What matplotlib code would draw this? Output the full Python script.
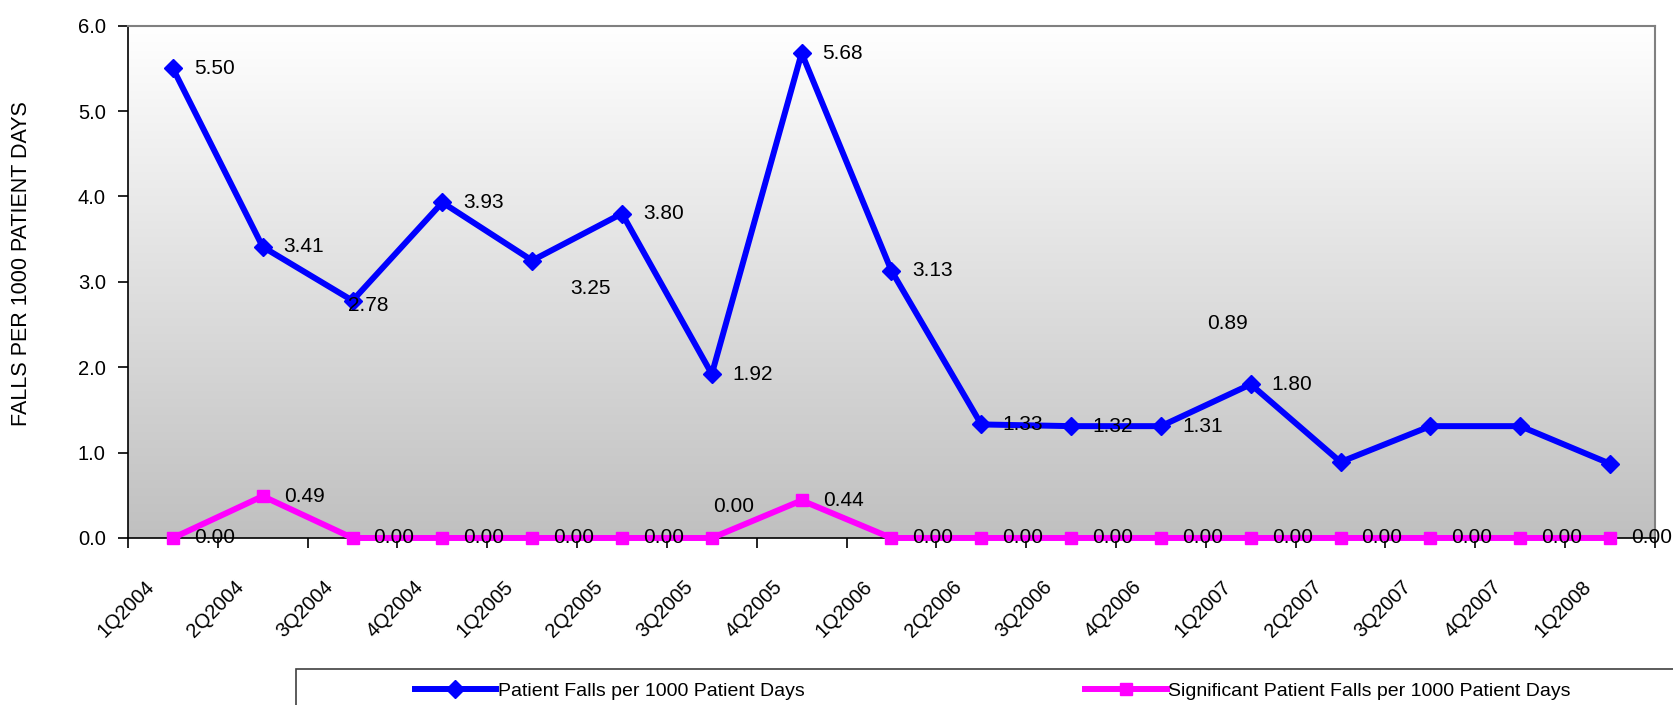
import matplotlib
matplotlib.use('Agg')
import matplotlib.pyplot as plt
import matplotlib.transforms as mtransforms
from matplotlib.colors import LinearSegmentedColormap
from matplotlib.patches import Rectangle
import numpy as np

quarters = ['1Q2004', '2Q2004', '3Q2004', '4Q2004', '1Q2005', '2Q2005', '3Q2005',
            '4Q2005', '1Q2006', '2Q2006', '3Q2006', '4Q2006', '1Q2007', '2Q2007',
            '3Q2007', '4Q2007', '1Q2008']
falls = [5.50, 3.41, 2.78, 3.93, 3.25, 3.80, 1.92, 5.68, 3.13, 1.33, 1.31, 1.31,
         1.80, 0.89, 1.31, 1.31, 0.87]
falls_labels = ['5.50', '3.41', '2.78', '3.93', '3.25', '3.80', '1.92', '5.68', '3.13',
                '1.33', '1.32', '1.31', '1.80', '0.89', '', '', '']
sig_falls = [0.00, 0.49, 0.00, 0.00, 0.00, 0.00, 0.00, 0.44, 0.00, 0.00, 0.00, 0.00,
             0.00, 0.00, 0.00, 0.00, 0.00]

plt.rcParams['font.family'] = ['Liberation Sans', 'DejaVu Sans']

fig = plt.figure(figsize=(16.73, 7.05), dpi=100)
ax = fig.add_axes([0.0765, 0.2369, 0.9892 - 0.0765, 0.9635 - 0.2369])

x = np.arange(len(quarters))

# gradient background
cmap = LinearSegmentedColormap.from_list('bg', ['#C0C0C0', '#FFFFFF'])
grad = np.linspace(0, 1, 256).reshape(-1, 1)
ax.imshow(grad, cmap=cmap, extent=[-0.5, 16.5, 0, 6], aspect='auto',
          origin='lower', zorder=0)

ax.plot(x, falls, color='#0000FF', lw=4.3, marker='D', ms=9, mew=1,
        label='Patient Falls per 1000 Patient Days', zorder=3)
ax.plot(x, sig_falls, color='#FF00FF', lw=4.3, marker='s', ms=8.5, mew=1,
        label='Significant Patient Falls per 1000 Patient Days', zorder=3, clip_on=False)

ax.set_xlim(-0.5, 16.5)
ax.set_ylim(0, 6)

# data labels (offsets in px: left edge / vertical center)
px = 1 / 1.389
blue_off = {2: (-5, -5), 4: (38, -28), 13: (-133, 139)}
for i, (v, t) in enumerate(zip(falls, falls_labels)):
    if not t:
        continue
    dx, dy = blue_off.get(i, (21, 0))
    ax.annotate(t, (i, v), xytext=(dx * px, dy * px), textcoords='offset points',
                ha='left', va='center', fontsize=15, zorder=5, annotation_clip=False)

pink_off = {6: (1, 31)}
for i, v in enumerate(sig_falls):
    dx, dy = pink_off.get(i, (21, 0))
    ax.annotate('%.2f' % v, (i, v), xytext=(dx * px, dy * px), textcoords='offset points',
                ha='left', va='center', fontsize=15, zorder=5, annotation_clip=False)

# axes styling
for s in ['top', 'right']:
    ax.spines[s].set_color('#808080')
    ax.spines[s].set_linewidth(1.5)
for s in ['left', 'bottom']:
    ax.spines[s].set_color('black')
    ax.spines[s].set_linewidth(1.2)

ax.set_yticks(np.arange(0, 7, 1))
ax.set_yticklabels(['%.1f' % v for v in np.arange(0, 7, 1)], fontsize=14.5)
ax.tick_params(axis='y', length=7, width=1.2, pad=9)

ax.set_xticks(x)
ax.set_xticks(np.arange(-0.5, 17, 1), minor=True)
ax.tick_params(axis='x', which='major', length=0, pad=33)
ax.tick_params(axis='x', which='minor', length=7, width=1.2)
ax.set_xticklabels(quarters, rotation=45, ha='right', va='center',
                   rotation_mode='anchor', fontsize=14.5)
shift = mtransforms.ScaledTranslation(-22 / 100, 0, fig.dpi_scale_trans)
for lbl in ax.get_xticklabels():
    lbl.set_transform(lbl.get_transform() + shift)

fig.text(22 / 1673, 1 - 264 / 705, 'FALLS PER 1000 PATIENT DAYS', rotation=90,
         ha='center', va='center', fontsize=15.5)

# legend box
fig.patches.append(Rectangle((296 / 1673, -0.2), 1.0, 0.2 + (1 - 669 / 705),
                             transform=fig.transFigure, facecolor='white',
                             edgecolor='#404040', lw=1.2, zorder=0))
fig.legend(loc='center left', bbox_to_anchor=(397 / 1673, 1 - 691 / 705), ncol=2,
           frameon=False, fontsize=14, handlelength=4.2, handletextpad=0.1,
           columnspacing=14.4)

fig.savefig('out.png', dpi=100)
